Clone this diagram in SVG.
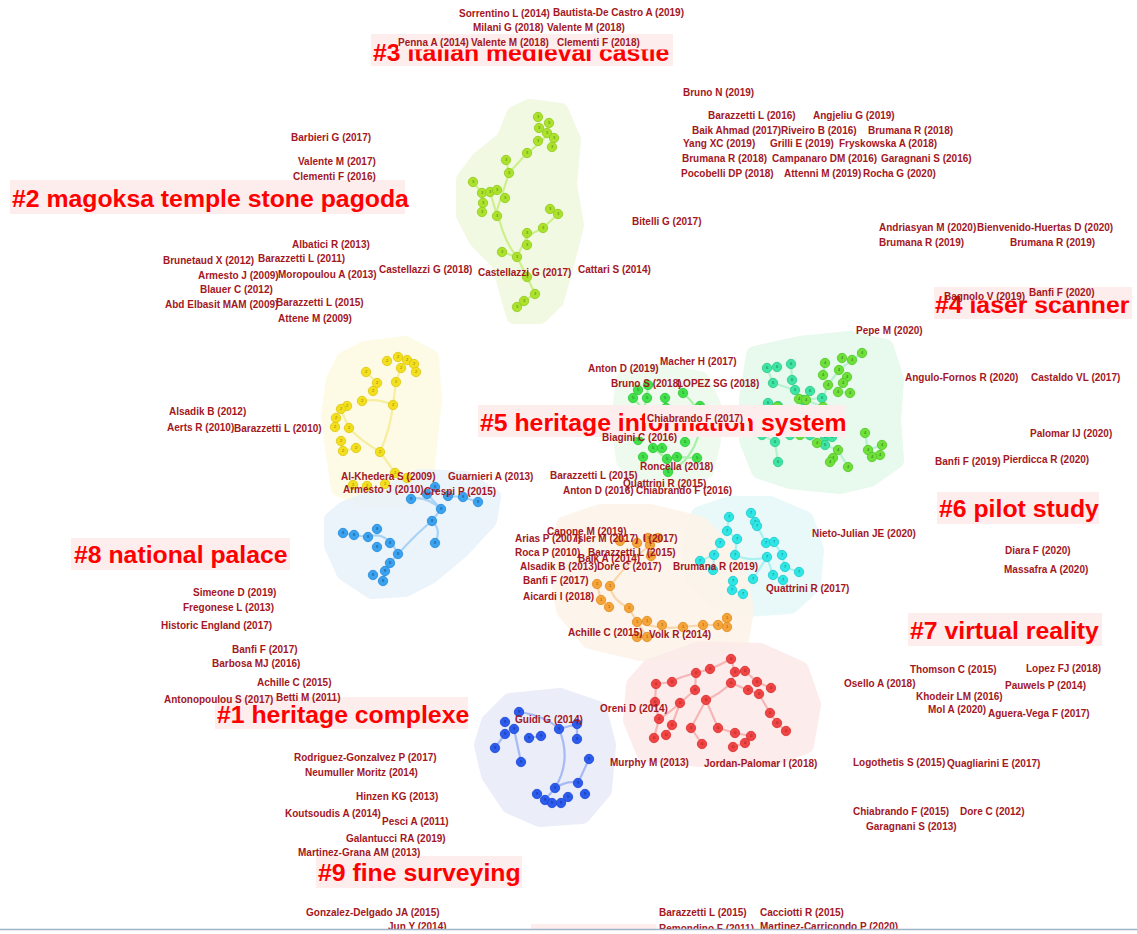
<svg xmlns="http://www.w3.org/2000/svg" width="1137" height="934" viewBox="0 0 1137 934">
<style>
.a{font-family:"Liberation Sans",Arial,sans-serif;font-weight:bold;font-size:10px;fill:#a3171f}
.c{font-family:"Liberation Sans",Arial,sans-serif;font-weight:bold;font-size:24.8px;fill:#ff0000}
.cb{fill:#fdeded}
.nn{font-family:"Liberation Sans",Arial,sans-serif;font-size:4px;text-anchor:middle}
.h{stroke-linejoin:round;stroke-width:18;opacity:.85}
.e{fill:none;stroke-width:2.2;stroke-linecap:round;stroke-linejoin:round;opacity:.75}
</style>
<defs>
<g id="n0"><circle r="4.7" fill="#f04545" stroke="#d83030" stroke-width=".8"/><text class="nn" y="1.4" fill="#901010">0</text></g>
<g id="n1"><circle r="4.7" fill="#f5a43a" stroke="#e08a20" stroke-width=".8"/><text class="nn" y="1.4" fill="#905010">1</text></g>
<g id="n2"><circle r="4.7" fill="#f3df1c" stroke="#dcc410" stroke-width=".8"/><text class="nn" y="1.4" fill="#807010">2</text></g>
<g id="n3"><circle r="4.7" fill="#abe22c" stroke="#90c81c" stroke-width=".8"/><text class="nn" y="1.4" fill="#5a7a10">3</text></g>
<g id="n4"><circle r="4.7" fill="#6ee03a" stroke="#52c424" stroke-width=".8"/><text class="nn" y="1.4" fill="#2a7010">4</text></g>
<g id="n5"><circle r="4.7" fill="#42e04a" stroke="#2cc436" stroke-width=".8"/><text class="nn" y="1.4" fill="#107020">5</text></g>
<g id="n6"><circle r="4.7" fill="#3ee4a2" stroke="#28c888" stroke-width=".8"/><text class="nn" y="1.4" fill="#107050">6</text></g>
<g id="n7"><circle r="4.7" fill="#2ee6e6" stroke="#1cc8cc" stroke-width=".8"/><text class="nn" y="1.4" fill="#107070">7</text></g>
<g id="n8"><circle r="4.7" fill="#3aa2ee" stroke="#2288d8" stroke-width=".8"/><text class="nn" y="1.4" fill="#104880">8</text></g>
<g id="n9"><circle r="4.7" fill="#2c5cee" stroke="#1a44d4" stroke-width=".8"/><text class="nn" y="1.4" fill="#0a2070">9</text></g>
<clipPath id="clip3"><rect x="0" y="0" width="398" height="80"/><rect x="0" y="49.5" width="1137" height="40"/></clipPath>
<clipPath id="clip4"><rect x="900" y="280" width="60" height="50"/><rect x="900" y="300.5" width="237" height="30"/></clipPath>
<clipPath id="clip5"><path clip-rule="evenodd" d="M470,395H860V445H470Z M645,410H748V423H645Z"/></clipPath>
</defs>
<rect width="1137" height="934" fill="#ffffff"/>

<g id="hulls">
<polygon class="h" fill="#eff8df" stroke="#eff8df" points="530,108 560,112 572,140 568,185 575,225 565,265 555,300 540,315 515,315 508,290 500,262 478,240 465,215 465,180 480,160 505,140 515,115"/>
<polygon class="h" fill="#fdfbe2" stroke="#fdfbe2" points="365,350 405,345 430,358 433,400 428,445 425,480 410,498 365,498 340,488 335,455 330,415 335,380 345,360"/>
<polygon class="h" fill="#e8f2fb" stroke="#e8f2fb" points="345,510 395,490 420,478 465,480 492,497 488,520 460,550 430,575 405,588 372,590 345,572 333,545 333,520"/>
<polygon class="h" fill="#eafaea" stroke="#eafaea" points="625,380 660,372 700,380 712,405 712,440 705,470 680,480 640,478 625,460 620,420"/>
<polygon class="h" fill="#e4f8ea" stroke="#e4f8ea" points="755,355 800,345 850,340 885,348 895,380 892,420 895,460 870,478 840,485 790,480 760,470 748,440 748,400"/>
<polygon class="h" fill="#e6f9fa" stroke="#e6f9fa" points="700,515 730,505 770,505 805,520 815,550 812,585 790,605 745,608 715,600 695,580 690,545"/>
<polygon class="h" fill="#fdf4e9" stroke="#fdf4e9" points="565,525 600,513 650,513 700,525 735,560 745,610 740,640 700,652 640,652 590,640 565,610 558,570"/>
<polygon class="h" fill="#fcebe9" stroke="#fcebe9" points="650,668 700,650 760,652 800,670 812,705 805,745 770,758 700,758 645,752 632,720 635,685"/>
<polygon class="h" fill="#e8ecf9" stroke="#e8ecf9" points="490,722 510,702 560,697 598,710 607,745 603,790 582,815 540,818 510,805 490,775 483,745"/>
</g>

<g id="connectors">
<g stroke="#c2ec70" class="e">
<path d="M547,135 Q535,148 527,153 L509,173 Q503,192 497,210 Q503,240 517,257 L527,277 L535,294 L524,301 L517,307"/>
<path d="M558,214 L550,209 M558,214 L543,228 L527,236 L517,257"/>
<path d="M490,192 Q494,205 497,216 M506,160 L509,173 M473,182 L482,193 L490,192 M527,245 L527,233 M502,252 L517,257"/>
</g>
<g stroke="#f5ea88" class="e">
<path d="M380,452 Q390,430 393,405 L396,382 L401,368"/>
<path d="M380,452 Q360,440 349,428 Q343,415 341,409 M362,401 Q378,398 393,405 M380,452 Q392,468 398,478"/>
<path d="M373,391 L377,383 L366,372 M341,441 L343,451 L356,448"/>
</g>
<g stroke="#94c8f4" class="e">
<path d="M427,494 L441,509 L432,521 Q418,532 398,554 L390,563 L385,571 L383,581"/>
<path d="M432,521 Q442,530 435,543 M368,537 Q386,530 398,554 M448,496 L463,497 L478,502 M411,499 Q425,495 441,509 M343,533 L354,535 L368,537"/>
</g>
<g stroke="#90ee90" class="e">
<path d="M668,472 Q692,462 700,430 Q703,410 683,393 M638,440 Q640,420 647,398 L648,385"/>
<path d="M653,448 L667,459 L677,457 L697,458 M665,398 L666,408 L687,431 M633,398 L644,410"/>
</g>
<g stroke="#a6f0c8" class="e">
<path d="M767,368 L773,383 L795,390 L803,400 L822,398 M791,364 L792,380"/>
<path d="M862,353 L852,360 L839,370 L828,385 L823,398 M825,363 L823,375 M843,383 L838,392 L850,393"/>
<path d="M768,403 L778,406 L793,413 L810,435 L825,445 L838,450 L848,467 M830,422 L825,437"/>
<path d="M865,433 L868,450 L880,455 M762,435 L775,442 L778,462 M799,399 L806,400 L823,407 M798,417 L800,435 L817,443 M882,445 L868,450"/>
</g>
<g stroke="#96f0f0" class="e">
<path d="M729,517 L727,531 L737,539 L735,555 M751,513 L755,522 L757,526 L766,543 L774,542 L782,555 L785,567 L799,572"/>
<path d="M720,543 L714,555 L700,561 M735,555 Q750,562 767,557 L773,575 L783,580 M733,581 L732,590 L743,594 M753,579 L767,557 M713,570 L714,555"/>
</g>
<g stroke="#f8cc96" class="e">
<path d="M610,586 Q612,600 629,608 L637,622 L647,637 M597,584 L601,600 L609,607"/>
<path d="M637,622 Q660,630 683,627 L703,625 L718,625 L727,618 M647,637 Q656,640 662,625 M610,586 Q628,562 650,545"/>
</g>
<g stroke="#f4a4a4" class="e">
<path d="M731,659 Q720,665 710,669 L696,673 Q676,678 672,682 L656,684 L655,702 L659,719 L654,738"/>
<path d="M696,673 L695,690 L680,703 Q668,714 659,719 M731,659 L735,672 L731,683 L748,690 L759,694 L770,713 L777,723 L786,731"/>
<path d="M735,672 L745,671 L757,682 L771,688 M731,683 Q720,694 706,700 L691,728 L702,744 M706,700 L718,728 L735,733 L751,736 M680,703 L672,725 L666,735 M733,747 L745,743 L751,736"/>
</g>
<g stroke="#90aaf4" class="e">
<path d="M519,712 Q546,716 559,729 Q572,760 555,788 L545,800 M505,734 L495,748 M541,736 L529,738"/>
<path d="M578,783 L589,759 M555,788 Q568,780 578,783 M521,762 L514,729 M559,729 L577,724 L577,739"/>
</g>
</g>

<g id="cluster3-nodes">
<use href="#n3" x="538" y="117"/><use href="#n3" x="549" y="123"/><use href="#n3" x="539" y="128"/><use href="#n3" x="547" y="133"/><use href="#n3" x="554" y="138"/><use href="#n3" x="538" y="141"/><use href="#n3" x="552" y="147"/><use href="#n3" x="527" y="153"/><use href="#n3" x="506" y="160"/><use href="#n3" x="509" y="173"/><use href="#n3" x="473" y="182"/><use href="#n3" x="482" y="193"/><use href="#n3" x="490" y="192"/><use href="#n3" x="497" y="190"/><use href="#n3" x="505" y="198"/><use href="#n3" x="483" y="203"/><use href="#n3" x="482" y="212"/><use href="#n3" x="497" y="216"/><use href="#n3" x="550" y="209"/><use href="#n3" x="558" y="214"/><use href="#n3" x="543" y="228"/><use href="#n3" x="527" y="233"/><use href="#n3" x="527" y="245"/><use href="#n3" x="502" y="252"/><use href="#n3" x="517" y="257"/><use href="#n3" x="527" y="277"/><use href="#n3" x="535" y="294"/><use href="#n3" x="524" y="301"/><use href="#n3" x="517" y="307"/>
</g>
<g id="cluster2-nodes">
<use href="#n2" x="387" y="361"/><use href="#n2" x="398" y="357"/><use href="#n2" x="407" y="360"/><use href="#n2" x="414" y="364"/><use href="#n2" x="401" y="368"/><use href="#n2" x="416" y="372"/><use href="#n2" x="366" y="372"/><use href="#n2" x="377" y="383"/><use href="#n2" x="396" y="382"/><use href="#n2" x="373" y="391"/><use href="#n2" x="362" y="401"/><use href="#n2" x="393" y="405"/><use href="#n2" x="347" y="406"/><use href="#n2" x="341" y="409"/><use href="#n2" x="336" y="418"/><use href="#n2" x="335" y="427"/><use href="#n2" x="349" y="428"/><use href="#n2" x="341" y="441"/><use href="#n2" x="343" y="451"/><use href="#n2" x="356" y="448"/><use href="#n2" x="380" y="452"/><use href="#n2" x="353" y="485"/><use href="#n2" x="367" y="486"/><use href="#n2" x="385" y="484"/><use href="#n2" x="395" y="473"/><use href="#n2" x="407" y="478"/>
</g>
<g id="cluster8-nodes">
<use href="#n8" x="411" y="499"/><use href="#n8" x="427" y="494"/><use href="#n8" x="435" y="487"/><use href="#n8" x="448" y="496"/><use href="#n8" x="463" y="497"/><use href="#n8" x="478" y="502"/><use href="#n8" x="441" y="509"/><use href="#n8" x="432" y="521"/><use href="#n8" x="343" y="533"/><use href="#n8" x="354" y="535"/><use href="#n8" x="368" y="537"/><use href="#n8" x="377" y="529"/><use href="#n8" x="377" y="547"/><use href="#n8" x="390" y="543"/><use href="#n8" x="398" y="554"/><use href="#n8" x="390" y="563"/><use href="#n8" x="385" y="571"/><use href="#n8" x="373" y="575"/><use href="#n8" x="383" y="581"/><use href="#n8" x="435" y="543"/>
</g>
<g id="cluster5-nodes">
<use href="#n5" x="638" y="390"/><use href="#n5" x="648" y="385"/><use href="#n5" x="633" y="398"/><use href="#n5" x="647" y="398"/><use href="#n5" x="665" y="398"/><use href="#n5" x="683" y="393"/><use href="#n5" x="700" y="406"/><use href="#n5" x="666" y="408"/><use href="#n5" x="644" y="410"/><use href="#n5" x="703" y="430"/><use href="#n5" x="687" y="431"/><use href="#n5" x="638" y="440"/><use href="#n5" x="653" y="448"/><use href="#n5" x="662" y="448"/><use href="#n5" x="685" y="442"/><use href="#n5" x="643" y="457"/><use href="#n5" x="667" y="459"/><use href="#n5" x="677" y="457"/><use href="#n5" x="697" y="458"/><use href="#n5" x="668" y="472"/>
</g>
<g id="cluster6-nodes">
<use href="#n6" x="767" y="368"/><use href="#n6" x="777" y="367"/><use href="#n6" x="791" y="364"/><use href="#n6" x="773" y="383"/><use href="#n6" x="792" y="380"/><use href="#n6" x="795" y="390"/><use href="#n6" x="810" y="391"/><use href="#n6" x="803" y="400"/><use href="#n6" x="822" y="398"/><use href="#n6" x="768" y="403"/><use href="#n6" x="778" y="406"/><use href="#n6" x="793" y="413"/><use href="#n6" x="823" y="410"/><use href="#n6" x="830" y="422"/><use href="#n6" x="762" y="435"/><use href="#n6" x="775" y="442"/><use href="#n6" x="790" y="435"/><use href="#n6" x="810" y="435"/><use href="#n6" x="825" y="437"/><use href="#n6" x="832" y="437"/><use href="#n6" x="825" y="445"/><use href="#n6" x="778" y="462"/>
</g>
<g id="cluster4-nodes">
<use href="#n4" x="842" y="358"/><use href="#n4" x="852" y="360"/><use href="#n4" x="862" y="353"/><use href="#n4" x="825" y="363"/><use href="#n4" x="839" y="370"/><use href="#n4" x="823" y="375"/><use href="#n4" x="847" y="377"/><use href="#n4" x="828" y="385"/><use href="#n4" x="843" y="383"/><use href="#n4" x="838" y="392"/><use href="#n4" x="850" y="393"/><use href="#n4" x="799" y="399"/><use href="#n4" x="806" y="400"/><use href="#n4" x="777" y="407"/><use href="#n4" x="823" y="407"/><use href="#n4" x="798" y="417"/><use href="#n4" x="800" y="435"/><use href="#n4" x="817" y="443"/><use href="#n4" x="838" y="450"/><use href="#n4" x="833" y="458"/><use href="#n4" x="830" y="462"/><use href="#n4" x="848" y="467"/><use href="#n4" x="865" y="433"/><use href="#n4" x="868" y="450"/><use href="#n4" x="882" y="445"/><use href="#n4" x="880" y="455"/><use href="#n4" x="872" y="457"/>
</g>
<g id="cluster7-nodes">
<use href="#n7" x="729" y="517"/><use href="#n7" x="751" y="513"/><use href="#n7" x="755" y="522"/><use href="#n7" x="757" y="526"/><use href="#n7" x="727" y="531"/><use href="#n7" x="737" y="539"/><use href="#n7" x="720" y="543"/><use href="#n7" x="766" y="543"/><use href="#n7" x="774" y="542"/><use href="#n7" x="714" y="555"/><use href="#n7" x="735" y="555"/><use href="#n7" x="767" y="557"/><use href="#n7" x="782" y="555"/><use href="#n7" x="700" y="561"/><use href="#n7" x="785" y="567"/><use href="#n7" x="799" y="572"/><use href="#n7" x="773" y="575"/><use href="#n7" x="783" y="580"/><use href="#n7" x="733" y="581"/><use href="#n7" x="753" y="579"/><use href="#n7" x="732" y="590"/><use href="#n7" x="743" y="594"/><use href="#n7" x="713" y="570"/>
</g>
<g id="cluster1-nodes">
<use href="#n1" x="597" y="584"/><use href="#n1" x="601" y="600"/><use href="#n1" x="610" y="586"/><use href="#n1" x="609" y="607"/><use href="#n1" x="629" y="608"/><use href="#n1" x="637" y="622"/><use href="#n1" x="647" y="621"/><use href="#n1" x="662" y="625"/><use href="#n1" x="637" y="637"/><use href="#n1" x="647" y="637"/><use href="#n1" x="683" y="627"/><use href="#n1" x="703" y="625"/><use href="#n1" x="718" y="625"/><use href="#n1" x="727" y="618"/><use href="#n1" x="727" y="627"/><use href="#n1" x="650" y="545"/><use href="#n1" x="637" y="543"/><use href="#n1" x="648" y="538"/><use href="#n1" x="658" y="538"/><use href="#n1" x="620" y="541"/><use href="#n1" x="651" y="556"/>
</g>
<g id="cluster0-nodes">
<use href="#n0" x="731" y="659"/><use href="#n0" x="696" y="673"/><use href="#n0" x="710" y="669"/><use href="#n0" x="735" y="672"/><use href="#n0" x="745" y="671"/><use href="#n0" x="672" y="682"/><use href="#n0" x="656" y="684"/><use href="#n0" x="695" y="690"/><use href="#n0" x="731" y="683"/><use href="#n0" x="757" y="682"/><use href="#n0" x="748" y="690"/><use href="#n0" x="759" y="694"/><use href="#n0" x="771" y="688"/><use href="#n0" x="680" y="703"/><use href="#n0" x="706" y="700"/><use href="#n0" x="655" y="702"/><use href="#n0" x="659" y="719"/><use href="#n0" x="672" y="725"/><use href="#n0" x="691" y="728"/><use href="#n0" x="718" y="728"/><use href="#n0" x="735" y="733"/><use href="#n0" x="751" y="736"/><use href="#n0" x="770" y="713"/><use href="#n0" x="777" y="723"/><use href="#n0" x="786" y="731"/><use href="#n0" x="654" y="738"/><use href="#n0" x="666" y="735"/><use href="#n0" x="702" y="744"/><use href="#n0" x="733" y="747"/><use href="#n0" x="745" y="743"/>
</g>
<g id="cluster9-nodes">
<use href="#n9" x="519" y="712"/><use href="#n9" x="505" y="722"/><use href="#n9" x="514" y="729"/><use href="#n9" x="505" y="734"/><use href="#n9" x="495" y="748"/><use href="#n9" x="529" y="738"/><use href="#n9" x="541" y="736"/><use href="#n9" x="559" y="729"/><use href="#n9" x="577" y="724"/><use href="#n9" x="577" y="739"/><use href="#n9" x="589" y="759"/><use href="#n9" x="521" y="762"/><use href="#n9" x="555" y="788"/><use href="#n9" x="578" y="783"/><use href="#n9" x="585" y="794"/><use href="#n9" x="537" y="794"/><use href="#n9" x="545" y="800"/><use href="#n9" x="552" y="803"/><use href="#n9" x="561" y="803"/><use href="#n9" x="568" y="797"/>
</g>

<g id="cluster-labels">
<g id="label3"><rect class="cb" x="371" y="34" width="302" height="32"/><text class="c" x="373" y="61" clip-path="url(#clip3)">#3 italian medieval castle</text></g>
<g id="label2"><rect class="cb" x="10" y="180" width="395" height="34"/><text class="c" x="12" y="207">#2 magoksa temple stone pagoda</text></g>
<g id="label4"><rect class="cb" x="934" y="287" width="198" height="32"/><text class="c" x="935" y="313" clip-path="url(#clip4)">#4 laser scanner</text></g>
<g id="label5"><rect class="cb" x="478" y="405" width="367" height="32"/><text class="c" x="480" y="431" clip-path="url(#clip5)">#5 heritage information system</text></g>
<g id="label6"><rect class="cb" x="937" y="492" width="162" height="32"/><text class="c" x="939" y="517">#6 pilot study</text></g>
<g id="label7"><rect class="cb" x="908" y="613" width="194" height="33"/><text class="c" x="910" y="639">#7 virtual reality</text></g>
<g id="label8"><rect class="cb" x="71" y="538" width="219" height="32"/><text class="c" x="74" y="563">#8 national palace</text></g>
<g id="label1"><rect class="cb" x="215" y="697" width="253" height="32"/><text class="c" x="217" y="723">#1 heritage complexe</text></g>
<g id="label9"><rect class="cb" x="316" y="856" width="206" height="32"/><text class="c" x="318" y="881">#9 fine surveying</text></g>
<rect class="cb" x="531" y="924" width="125" height="10"/>
</g>

<g id="labels">
<text class="a" x="459" y="17">Sorrentino L (2014)</text>
<text class="a" x="553" y="16">Bautista-De Castro A (2019)</text>
<text class="a" x="473" y="31">Milani G (2018)</text>
<text class="a" x="547" y="31">Valente M (2018)</text>
<text class="a" x="398" y="46">Penna A (2014)</text>
<text class="a" x="471" y="46">Valente M (2018)</text>
<text class="a" x="557" y="46">Clementi F (2018)</text>
<text class="a" x="683" y="96">Bruno N (2019)</text>
<text class="a" x="708" y="119">Barazzetti L (2016)</text>
<text class="a" x="813" y="119">Angjeliu G (2019)</text>
<text class="a" x="692" y="134">Baik Ahmad (2017)</text>
<text class="a" x="781" y="134">Riveiro B (2016)</text>
<text class="a" x="868" y="134">Brumana R (2018)</text>
<text class="a" x="683" y="147">Yang XC (2019)</text>
<text class="a" x="770" y="147">Grilli E (2019)</text>
<text class="a" x="839" y="147">Fryskowska A (2018)</text>
<text class="a" x="682" y="162">Brumana R (2018)</text>
<text class="a" x="772" y="162">Campanaro DM (2016)</text>
<text class="a" x="881" y="162">Garagnani S (2016)</text>
<text class="a" x="681" y="177">Pocobelli DP (2018)</text>
<text class="a" x="784" y="177">Attenni M (2019)</text>
<text class="a" x="863" y="177">Rocha G (2020)</text>
<text class="a" x="291" y="141">Barbieri G (2017)</text>
<text class="a" x="298" y="165">Valente M (2017)</text>
<text class="a" x="293" y="180">Clementi F (2016)</text>
<text class="a" x="292" y="248">Albatici R (2013)</text>
<text class="a" x="163" y="264">Brunetaud X (2012)</text>
<text class="a" x="258" y="262">Barazzetti L (2011)</text>
<text class="a" x="198" y="279">Armesto J (2009)</text>
<text class="a" x="278" y="278">Moropoulou A (2013)</text>
<text class="a" x="379" y="273">Castellazzi G (2018)</text>
<text class="a" x="200" y="293">Blauer C (2012)</text>
<text class="a" x="165" y="308">Abd Elbasit MAM (2009)</text>
<text class="a" x="276" y="306">Barazzetti L (2015)</text>
<text class="a" x="278" y="322">Attene M (2009)</text>
<text class="a" x="478" y="276">Castellazzi G (2017)</text>
<text class="a" x="578" y="273">Cattari S (2014)</text>
<text class="a" x="632" y="225">Bitelli G (2017)</text>
<text class="a" x="879" y="231">Andriasyan M (2020)</text>
<text class="a" x="977" y="231">Bienvenido-Huertas D (2020)</text>
<text class="a" x="879" y="246">Brumana R (2019)</text>
<text class="a" x="1010" y="246">Brumana R (2019)</text>
<text class="a" x="944" y="300">Bagnolo V (2019)</text>
<text class="a" x="1029" y="296">Banfi F (2020)</text>
<text class="a" x="856" y="334">Pepe M (2020)</text>
<text class="a" x="905" y="381">Angulo-Fornos R (2020)</text>
<text class="a" x="1031" y="381">Castaldo VL (2017)</text>
<text class="a" x="1030" y="437">Palomar IJ (2020)</text>
<text class="a" x="935" y="465">Banfi F (2019)</text>
<text class="a" x="1003" y="463">Pierdicca R (2020)</text>
<text class="a" x="660" y="365">Macher H (2017)</text>
<text class="a" x="588" y="372">Anton D (2019)</text>
<text class="a" x="611" y="387">Bruno S (2018)</text>
<text class="a" x="677" y="387">LOPEZ SG (2018)</text>
<text class="a" x="647" y="422">Chiabrando F (2017)</text>
<text class="a" x="602" y="441">Biagini C (2016)</text>
<text class="a" x="640" y="470">Roncella (2018)</text>
<text class="a" x="550" y="479">Barazzetti L (2015)</text>
<text class="a" x="623" y="487">Quattrini R (2015)</text>
<text class="a" x="563" y="494">Anton D (2016)</text>
<text class="a" x="636" y="494">Chiabrando F (2016)</text>
<text class="a" x="169" y="415">Alsadik B (2012)</text>
<text class="a" x="167" y="431">Aerts R (2010)</text>
<text class="a" x="234" y="432">Barazzetti L (2010)</text>
<text class="a" x="341" y="480">Al-Khedera S (2009)</text>
<text class="a" x="448" y="480">Guarnieri A (2013)</text>
<text class="a" x="343" y="493">Armesto J (2010)</text>
<text class="a" x="424" y="495">Crespi P (2015)</text>
<text class="a" x="547" y="535">Capone M (2019)</text>
<text class="a" x="515" y="542">Arias P (2007)</text>
<text class="a" x="575" y="542">Isler M (2017)</text>
<text class="a" x="643" y="542">I (2017)</text>
<text class="a" x="515" y="556">Roca P (2010)</text>
<text class="a" x="588" y="556">Barazzetti L (2015)</text>
<text class="a" x="578" y="562">Baik A (2014)</text>
<text class="a" x="520" y="570">Alsadik B (2013)</text>
<text class="a" x="597" y="570">Dore C (2017)</text>
<text class="a" x="673" y="570">Brumana R (2019)</text>
<text class="a" x="523" y="584">Banfi F (2017)</text>
<text class="a" x="523" y="600">Aicardi I (2018)</text>
<text class="a" x="568" y="636">Achille C (2015)</text>
<text class="a" x="649" y="638">Volk R (2014)</text>
<text class="a" x="812" y="537">Nieto-Julian JE (2020)</text>
<text class="a" x="766" y="592">Quattrini R (2017)</text>
<text class="a" x="1005" y="554">Diara F (2020)</text>
<text class="a" x="1004" y="573">Massafra A (2020)</text>
<text class="a" x="910" y="673">Thomson C (2015)</text>
<text class="a" x="1026" y="672">Lopez FJ (2018)</text>
<text class="a" x="844" y="687">Osello A (2018)</text>
<text class="a" x="1005" y="689">Pauwels P (2014)</text>
<text class="a" x="916" y="700">Khodeir LM (2016)</text>
<text class="a" x="928" y="713">Mol A (2020)</text>
<text class="a" x="988" y="717">Aguera-Vega F (2017)</text>
<text class="a" x="853" y="766">Logothetis S (2015)</text>
<text class="a" x="947" y="767">Quagliarini E (2017)</text>
<text class="a" x="853" y="815">Chiabrando F (2015)</text>
<text class="a" x="960" y="815">Dore C (2012)</text>
<text class="a" x="866" y="830">Garagnani S (2013)</text>
<text class="a" x="193" y="596">Simeone D (2019)</text>
<text class="a" x="183" y="611">Fregonese L (2013)</text>
<text class="a" x="161" y="629">Historic England (2017)</text>
<text class="a" x="232" y="653">Banfi F (2017)</text>
<text class="a" x="212" y="667">Barbosa MJ (2016)</text>
<text class="a" x="257" y="686">Achille C (2015)</text>
<text class="a" x="164" y="703">Antonopoulou S (2017)</text>
<text class="a" x="276" y="701">Betti M (2011)</text>
<text class="a" x="600" y="712">Oreni D (2014)</text>
<text class="a" x="515" y="723">Guidi G (2014)</text>
<text class="a" x="294" y="761">Rodriguez-Gonzalvez P (2017)</text>
<text class="a" x="305" y="776">Neumuller Moritz (2014)</text>
<text class="a" x="610" y="766">Murphy M (2013)</text>
<text class="a" x="704" y="767">Jordan-Palomar I (2018)</text>
<text class="a" x="356" y="800">Hinzen KG (2013)</text>
<text class="a" x="285" y="817">Koutsoudis A (2014)</text>
<text class="a" x="382" y="825">Pesci A (2011)</text>
<text class="a" x="346" y="842">Galantucci RA (2019)</text>
<text class="a" x="298" y="856">Martinez-Grana AM (2013)</text>
<text class="a" x="306" y="916">Gonzalez-Delgado JA (2015)</text>
<text class="a" x="388" y="930">Jun Y (2014)</text>
<text class="a" x="659" y="916">Barazzetti L (2015)</text>
<text class="a" x="760" y="916">Cacciotti R (2015)</text>
<text class="a" x="659" y="932">Remondino F (2011)</text>
<text class="a" x="760" y="930">Martinez-Carricondo P (2020)</text>
</g>
<rect x="0" y="930" width="1137" height="4" fill="#ffffff"/>
<line x1="0" y1="929.5" x2="1137" y2="929.5" stroke="#9fb3c8" stroke-width="1.5"/>
</svg>
